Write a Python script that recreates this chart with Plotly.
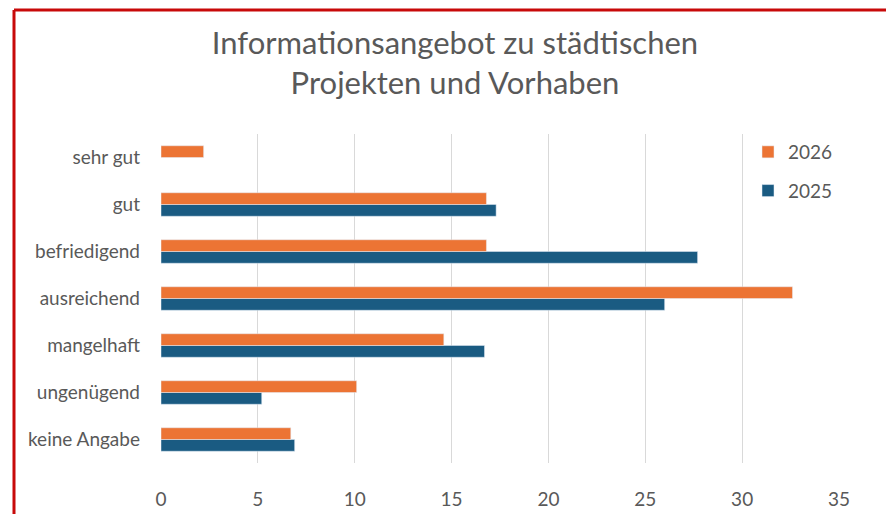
import plotly.graph_objects as go

categories = ["keine Angabe", "ungenügend", "mangelhaft", "ausreichend", "befriedigend", "gut", "sehr gut"]
values_2025 = [6.9, 5.2, 16.7, 26.0, 27.7, 17.3, None]
values_2026 = [6.7, 10.1, 14.6, 32.6, 16.8, 16.8, 2.2]
x_ticks = [0, 5, 10, 15, 20, 25, 30, 35]
title_text = "Informationsangebot zu städtischen<br>Projekten und Vorhaben"

FONT = "Lato"
GREY = "#595959"
OFF = 8  # page body margin offset

fig = go.Figure()
fig.add_trace(go.Bar(y=categories, x=values_2025, name="2025", orientation="h",
                     marker=dict(color="#1A5B82"), legendrank=2, legendgroup="g2025"))
fig.add_trace(go.Bar(y=categories, x=values_2026, name="2026", orientation="h",
                     marker=dict(color="#EC7434"), legendrank=1, legendgroup="g2026"))

W, H = 894, 514
# target screen pixels: plot x 161..839, y 134..468
ml = 161 - OFF
mr = W - (839 - OFF)
mt = 134 - OFF
mb = H - (468 - OFF)
pw = W - ml - mr
ph = H - mt - mb

def px_x(p):
    return (p - OFF - ml) / pw

def px_y(p):
    return (H - mb - (p - OFF)) / ph

fig.update_layout(
    width=W, height=H,
    margin=dict(l=ml, r=mr, t=mt, b=mb),
    paper_bgcolor="white", plot_bgcolor="white",
    barmode="group", bargap=0.5, bargroupgap=0,
    title=dict(text=title_text, x=(455 - OFF) / W, xref="container", xanchor="center",
               y=1 - 46 / H, yref="container", yanchor="top",
               font=dict(family=FONT, size=31, color=GREY)),
    font=dict(family=FONT, color=GREY),
    xaxis=dict(range=[0, 35], tickvals=x_ticks, showgrid=True, gridcolor="#D9D9D9",
               gridwidth=1, zeroline=False, showline=False, ticks="",
               tickfont=dict(family=FONT, size=19, color=GREY), ticklabelstandoff=23),
    yaxis=dict(type="category", categoryorder="array", categoryarray=categories,
               showgrid=False, zeroline=False, showline=False, ticks="",
               tickfont=dict(family=FONT, size=19, color=GREY), ticklabelstandoff=20),
    legend=dict(x=px_x(748), y=px_y(133), xanchor="left", yanchor="top",
                traceorder="grouped", tracegroupgap=11,
                font=dict(family=FONT, size=19, color=GREY), bgcolor="rgba(0,0,0,0)"),
    showlegend=True,
    shapes=[
        dict(type="line", xref="paper", yref="paper", x0=px_x(14), x1=px_x(910),
             y0=px_y(8), y1=px_y(8), line=dict(color="#C80A0A", width=3)),
        dict(type="line", xref="paper", yref="paper", x0=px_x(14), x1=px_x(14),
             y0=px_y(8), y1=px_y(530), line=dict(color="#C80A0A", width=3)),
    ],
)

fig.write_html("out.html")
